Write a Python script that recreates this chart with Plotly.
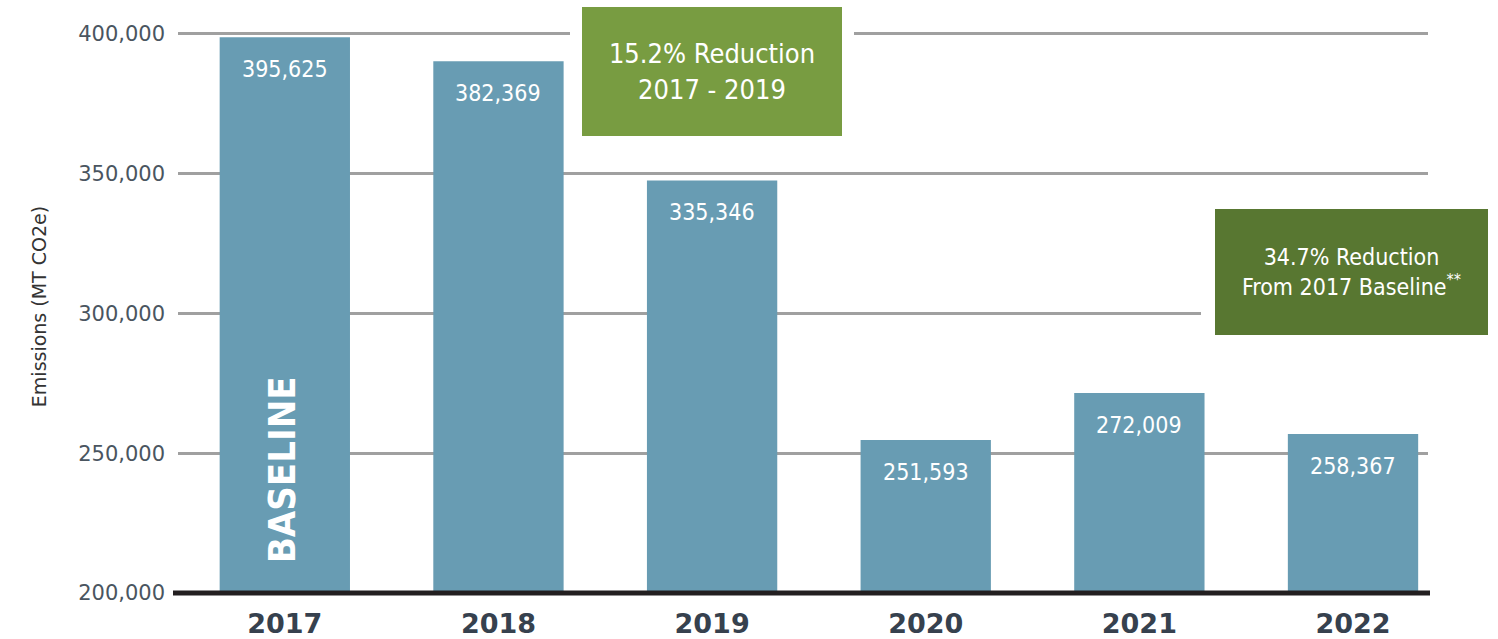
import plotly.graph_objects as go

# ---- data ----
years = ["2017", "2018", "2019", "2020", "2021", "2022"]
# bar heights as drawn in the reference (MT CO2e)
bar_heights = [398800, 390200, 347600, 254750, 271550, 256900]
# printed value labels
value_labels = ["395,625", "382,369", "335,346", "251,593", "272,009", "258,367"]
y_ticks = [200000, 250000, 300000, 350000, 400000]
y_tick_text = ["200,000", "250,000", "300,000", "350,000", "400,000"]

BAR_COLOR = "#689CB3"
NARROW = "'DejaVu Sans Condensed', 'Roboto Condensed', 'Liberation Sans Narrow', 'DejaVu Sans', sans-serif"

fig = go.Figure()
fig.add_trace(go.Bar(
    x=years, y=bar_heights,
    marker=dict(color=BAR_COLOR, line=dict(width=0)),
    hoverinfo="skip",
))

annotations = []
for i, (h, lab) in enumerate(zip(bar_heights, value_labels)):
    annotations.append(dict(
        x=i, y=h, xref="x", yref="y", text=lab, showarrow=False,
        yanchor="middle", yshift=-32,
        font=dict(family=NARROW, size=23, color="white", weight=500),
    ))

# BASELINE vertical text in the 2017 bar
annotations.append(dict(
    x=0, y=y_ticks[0], xref="x", yref="y", text="BASELINE",
    showarrow=False, textangle=-90, yanchor="bottom", yshift=28, xshift=-3,
    font=dict(family=NARROW, size=38, color="white", weight="bold"),
))

# reduction call-out boxes
annotations.append(dict(
    x=2, y=0.910, xref="x", yref="paper",
    text="15.2% Reduction<br>2017 - 2019", showarrow=False,
    width=260, height=129, borderpad=0, borderwidth=12, bordercolor="white",
    bgcolor="#789C41", align="center", xanchor="center", yanchor="middle",
    font=dict(family=NARROW, size=27, color="white"),
))
annotations.append(dict(
    x=5, y=0.560, xref="x", yref="paper",
    text="34.7% Reduction<br>From 2017 Baseline<sup>**</sup>", showarrow=False,
    width=273, height=126, borderpad=0, borderwidth=14, bordercolor="white",
    bgcolor="#587731", align="center", xanchor="center", yanchor="middle",
    xshift=-2,
    font=dict(family=NARROW, size=23, color="white"),
))

fig.update_layout(
    width=1498, height=639,
    margin=dict(l=178, r=70, t=20, b=46),
    paper_bgcolor="white", plot_bgcolor="white",
    showlegend=False,
    bargap=0.39,
    annotations=annotations,
    shapes=[dict(
        type="line", xref="paper", yref="paper",
        x0=-0.004, x1=1.0016, y0=0, y1=0,
        line=dict(color="#231F20", width=5), layer="above",
    )],
    xaxis=dict(
        type="category", range=[-0.5, 5.351], automargin=False,
        showgrid=False, zeroline=False, showline=False, ticks="",
        tickfont=dict(family="DejaVu Sans", size=27, color="#36414E", weight="bold"),
        ticklabelstandoff=12,
    ),
    yaxis=dict(
        range=[200000, 405000], automargin=False,
        tickvals=y_ticks, ticktext=y_tick_text,
        showgrid=True, gridcolor="#A0A0A0", gridwidth=2.5,
        zeroline=False, showline=False, ticks="",
        tickfont=dict(family="DejaVu Sans", size=21, color="#4A5560"),
        ticklabelstandoff=12,
        title=dict(text="Emissions (MT CO2e)", standoff=26,
                   font=dict(family="DejaVu Sans", size=19, color="#333333")),
    ),
)

fig.write_html(
    "out.html",
    config={"displayModeBar": False},
    post_script="document.body.style.margin='0';document.body.style.padding='0';",
)
